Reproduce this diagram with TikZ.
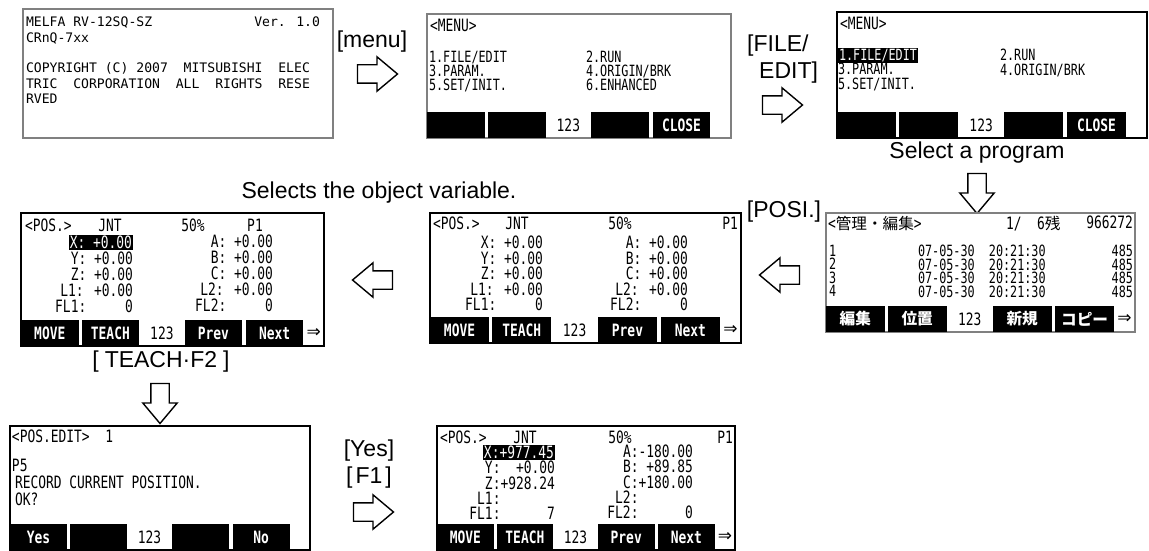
\documentclass[tikz,border=0pt]{standalone}
\usepackage{fontspec}
\setmainfont{Liberation Sans}
\newfontfamily\lcdfont[FakeStretch=0.76]{DejaVu Sans Mono}
\newfontfamily\bootfont{DejaVu Sans Mono}
\newfontfamily\symfont{DejaVu Sans}
\newfontfamily\jpfont[Scale=0.92]{Noto Sans CJK JP}
\usetikzlibrary{shapes.arrows}
\definecolor{PanelGrey}{HTML}{808080}
\newcommand{\lcdhl}[1]{{\setlength{\fboxsep}{1pt}\colorbox{black}{\color{white}#1}}}
\tikzset{
  lcdframe/.style={
    draw=black,
    line width=2pt,
    fill=white,
    anchor=north west,
    inner sep=0pt,
    outer sep=0pt
  },
  lcdgrey/.style={lcdframe,draw=PanelGrey,line width=1.5pt},
  lcdtext/.style={
    font={\lcdfont\fontsize{17pt}{#1}\selectfont},
    inner sep=0pt,
    outer sep=0pt
  },
  lcdtext/.default=15pt,
  lcdsmall/.style={
    font={\lcdfont\fontsize{15.5pt}{#1}\selectfont},
    inner sep=0pt,
    outer sep=0pt
  },
  lcdsmall/.default=13.5pt,
  boottext/.style={
    font={\bootfont\fontsize{13.1pt}{15.4pt}\selectfont},
    inner sep=0pt,
    outer sep=0pt
  },
  fkey/.style={
    fill=black,
    text=white,
    font={\lcdfont\bfseries\fontsize{17pt}{17pt}\selectfont},
    minimum height=26pt,
    inner sep=0pt,
    outer sep=0pt
  },
  fnum/.style={lcdtext},
  steplabel/.style={font=\fontsize{23pt}{27pt}\selectfont,inner sep=0pt,align=center},
  blockarr/.style={
    single arrow,
    draw=black,
    line width=1.4pt,
    fill=white,
    text height=8.5pt,
    text depth=8.5pt,
    minimum height=40pt,
    single arrow head extend=8pt,
    single arrow tip angle=80,
    inner sep=0pt
  }
}
% soft key row: name, width, bottom, F1, F2, F4, F5, tail
\newcommand{\keybar}[8]{%
  \foreach \ka/\kb/\kt [count=\kn] in {0/0.19/{#4},0.2/0.39/{#5},0.54/0.73/{#6},0.742/0.932/{#7}}
    \node[fkey,minimum width={(\kb-\ka)*#2},anchor=south west] (#1-k\kn) at ({\ka*#2},#3) {\kt};
  \node[fnum] (#1-num) at ({0.465*#2},#3-13) {123};
  \node[fnum] (#1-tail) at ({0.966*#2},#3-13) {#8};
}

\begin{document}
\begin{tikzpicture}[x=1pt,y=-1pt]
  \useasboundingbox (0,0) rectangle (1149,551);

  % start-up screen
  \begin{scope}[shift={(23,9)}]
    \node[lcdgrey,minimum width=310pt,minimum height=129pt] (scrBoot) at (0,0) {};
    \node[boottext,anchor=north west,align=left] (bootMain) at (3,8)
      {MELFA RV-12SQ-SZ\\CRnQ-7xx\\ \\COPYRIGHT (C) 2007~ MITSUBISHI~ ELEC\\TRIC~ CORPORATION~ ALL~ RIGHTS~ RESE\\RVED};
    \node[boottext,anchor=north east] (bootVer) at (297,8) {Ver. 1.0};
  \end{scope}

  \node[steplabel] (lblMenu) at (372,42) {[menu]};
  \node[blockarr] (arrMenu) at (372,74) {};

  % menu screen
  \begin{scope}[shift={(427,14)}]
    \node[lcdgrey,minimum width=304pt,minimum height=124pt] (scrMenu) at (0,0) {};
    \node[lcdtext,anchor=north west] (menuHead) at (3,5) {<MENU>};
    \node[lcdsmall=14pt,anchor=north west,align=left] (menuLeft) at (2,37) {1.FILE/EDIT\\3.PARAM.\\5.SET/INIT.};
    \node[lcdsmall=14pt,anchor=north west,align=left] (menuRight) at (159,37) {2.RUN\\4.ORIGIN/BRK\\6.ENHANCED};
    \keybar{scrMenu}{304}{124}{}{}{}{CLOSE}{}
  \end{scope}

  \node[steplabel,align=left,anchor=north west] (lblFile) at (747,35) {[FILE/\\\hspace*{12pt}EDIT]};
  \node[blockarr] (arrFile) at (777,105) {};

  % menu screen, FILE/EDIT selected
  \begin{scope}[shift={(837,12)}]
    \node[lcdframe,minimum width=310pt,minimum height=126pt] (scrFile) at (0,0) {};
    \node[lcdtext,anchor=north west] (fileHead) at (3,5) {<MENU>};
    \node[lcdsmall=14.5pt,anchor=north west,align=left] (fileLeft) at (1,36) {\lcdhl{1.FILE/EDIT}\\3.PARAM.\\5.SET/INIT.};
    \node[lcdsmall=14.5pt,anchor=north west,align=left] (fileRight) at (163,37) {2.RUN\\4.ORIGIN/BRK};
    \keybar{scrFile}{310}{126}{}{}{}{CLOSE}{}
  \end{scope}

  \node[steplabel] (lblSelect) at (977,153) {Select a program};
  \node[blockarr,rotate=-90] (arrSelect) at (977,188) {};

  % program list
  \begin{scope}[shift={(826,213)}]
    \node[lcdgrey,minimum width=309pt,minimum height=119pt] (scrList) at (0,0) {};
    \node[lcdtext,anchor=north west] (listHead) at (2,3) {<{\jpfont 管理・編集}>};
    \node[lcdtext,anchor=north west] (listPage) at (180,3) {1/~ 6{\jpfont 残}};
    \node[lcdtext,anchor=north east] (listFree) at (307,3) {966272};
    \node[lcdsmall,anchor=north west,align=left] (listNo) at (3,32) {1\\2\\3\\4};
    \node[lcdsmall,anchor=north west,align=left] (listDate) at (92,32)
      {07-05-30~ 20:21:30\\07-05-30~ 20:21:30\\07-05-30~ 20:21:30\\07-05-30~ 20:21:30};
    \node[lcdsmall,anchor=north east,align=right] (listSize) at (307,32) {485\\485\\485\\485};
    \keybar{scrList}{309}{119}{\jpfont 編集}{\jpfont 位置}{\jpfont 新規}{\jpfont コピー}{{\symfont ⇒}}
  \end{scope}

  \node[steplabel] (lblPosi) at (784,212) {[POSI.]};
  \node[blockarr,rotate=180] (arrPosi) at (785,275) {};

  % position screen
  \begin{scope}[shift={(430,213)}]
    \node[lcdframe,minimum width=311pt,minimum height=130pt] (scrPos) at (0,0) {};
    \node[lcdtext,anchor=north west] (posHead) at (3,4) {<POS.>};
    \node[lcdtext,anchor=north] (posJnt) at (87,4) {JNT};
    \node[lcdtext,anchor=north] (posOvr) at (190,4) {50\%};
    \node[lcdtext,anchor=north east] (posNo) at (308,4) {P1};
    \node[lcdtext=15.5pt,anchor=north east,align=right] (posLeft) at (113,23)
      {X: +0.00\\Y: +0.00\\Z: +0.00\\L1: +0.00\\FL1:~~~~~0};
    \node[lcdtext=15.5pt,anchor=north east,align=right] (posRight) at (258,23)
      {A: +0.00\\B: +0.00\\C: +0.00\\L2: +0.00\\FL2:~~~~~0};
    \keybar{scrPos}{311}{130}{MOVE}{TEACH}{Prev}{Next}{{\symfont ⇒}}
  \end{scope}

  \node[steplabel] (lblObject) at (379,193) {Selects the object variable.};
  \node[blockarr,rotate=180] (arrObject) at (378,280) {};

  % position screen, X selected
  \begin{scope}[shift={(21,213)}]
    \node[lcdframe,minimum width=303pt,minimum height=133pt] (scrSel) at (0,0) {};
    \node[lcdtext,anchor=north west] (selHead) at (4,6) {<POS.>};
    \node[lcdtext,anchor=north] (selJnt) at (89,6) {JNT};
    \node[lcdtext,anchor=north] (selOvr) at (172,6) {50\%};
    \node[lcdtext,anchor=north] (selNo) at (234,6) {P1};
    \node[lcdtext=16pt,anchor=north east,align=right] (selLeft) at (112,22)
      {\lcdhl{X: +0.00}\\Y: +0.00\\Z: +0.00\\L1: +0.00\\FL1:~~~~~0};
    \node[lcdtext=16pt,anchor=north east,align=right] (selRight) at (252,22)
      {A: +0.00\\B: +0.00\\C: +0.00\\L2: +0.00\\FL2:~~~~~0};
    \keybar{scrSel}{303}{133}{MOVE}{TEACH}{Prev}{Next}{{\symfont ⇒}}
  \end{scope}

  \node[steplabel] (lblTeach) at (161,362) {[\hspace{6pt}TEACH·F2\hspace{6pt}]};
  \node[blockarr,rotate=-90] (arrTeach) at (160,398) {};

  % record confirmation
  \begin{scope}[shift={(10,426)}]
    \node[lcdframe,minimum width=300pt,minimum height=124pt] (scrRec) at (0,0) {};
    \node[lcdtext,anchor=north west] (recHead) at (2,4) {<POS.EDIT>~~1};
    \node[lcdtext=17pt,anchor=north west,align=left] (recBody) at (2,33)
      {P5\\\hspace*{3pt}RECORD CURRENT POSITION.\\\hspace*{3pt}OK?};
    \keybar{scrRec}{300}{124}{Yes}{}{}{No}{}
  \end{scope}

  \node[steplabel] (lblYes) at (369,464) {[Yes]\\{}[\hspace{3pt}F1\hspace{3pt}]};
  \node[blockarr] (arrYes) at (368,512) {};

  % taught position
  \begin{scope}[shift={(437,426)}]
    \node[lcdframe,minimum width=298pt,minimum height=124pt] (scrDone) at (0,0) {};
    \node[lcdtext,anchor=north west] (doneHead) at (3,5) {<POS.>};
    \node[lcdtext,anchor=north] (doneJnt) at (88,5) {JNT};
    \node[lcdtext,anchor=north] (doneOvr) at (183,5) {50\%};
    \node[lcdtext,anchor=north east] (doneNo) at (296,5) {P1};
    \node[lcdtext=15.25pt,anchor=north east,align=right] (doneLeft) at (118,19)
      {\lcdhl{X:+977.45}\\Y:~~+0.00\\Z:+928.24\\L1:\hphantom{+000.00}\\FL1:~~~~~~7};
    \node[lcdtext=15.25pt,anchor=north east,align=right] (doneRight) at (256,19)
      {A:-180.00\\B:~+89.85\\C:+180.00\\L2:\hphantom{+000.00}\\FL2:~~~~~~0};
    \keybar{scrDone}{298}{124}{MOVE}{TEACH}{Prev}{Next}{{\symfont ⇒}}
  \end{scope}
\end{tikzpicture}
\end{document}
